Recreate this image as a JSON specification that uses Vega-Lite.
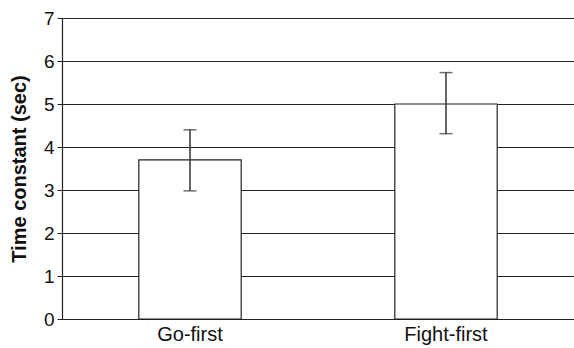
{
  "$schema": "https://vega.github.io/schema/vega-lite/v6.json",
  "width": 512,
  "height": 301,
  "autosize": {"type": "none"},
  "padding": {"left": 62, "top": 18, "right": 0, "bottom": 29},
  "background": "white",
  "config": {
    "view": {"stroke": null},
    "font": "Liberation Sans"
  },
  "data": {
    "values": [
      {"group": "Go-first", "value": 3.7, "lo": 2.98, "hi": 4.4},
      {"group": "Fight-first", "value": 5.0, "lo": 4.31, "hi": 5.73}
    ]
  },
  "encoding": {
    "x": {
      "field": "group",
      "type": "nominal",
      "sort": null,
      "scale": {"paddingInner": 0.6, "paddingOuter": 0.3},
      "axis": {
        "title": null,
        "labelAngle": 0,
        "labelFont": "Liberation Sans",
        "labelFontSize": 20,
        "labelColor": "#111",
        "labelPadding": 5,
        "ticks": false,
        "domainColor": "#222",
        "domainWidth": 1.2
      }
    }
  },
  "layer": [
    {
      "mark": {"type": "bar", "fill": "white", "stroke": "#222", "strokeWidth": 1.2},
      "encoding": {
        "y": {
          "field": "value",
          "type": "quantitative",
          "scale": {"domain": [0, 7], "nice": false},
          "axis": {
            "title": "Time constant (sec)",
            "titleFont": "Liberation Sans",
            "titleFontSize": 20,
            "titleFontWeight": "bold",
            "titleColor": "#111",
            "titlePadding": 14,
            "values": [0, 1, 2, 3, 4, 5, 6, 7],
            "labelFont": "Liberation Sans",
            "labelFontSize": 19,
            "labelColor": "#111",
            "labelPadding": 3,
            "tickSize": 5,
            "tickColor": "#222",
            "domainColor": "#222",
            "domainWidth": 1.2,
            "grid": true,
            "gridColor": "#222",
            "gridWidth": 1.1,
            "gridOpacity": 1
          }
        }
      }
    },
    {
      "mark": {"type": "rule", "color": "#333", "strokeWidth": 1.5},
      "encoding": {
        "y": {"field": "lo", "type": "quantitative"},
        "y2": {"field": "hi"}
      }
    },
    {
      "mark": {"type": "tick", "color": "#333", "size": 13, "thickness": 1.5, "orient": "horizontal"},
      "encoding": {
        "y": {"field": "lo", "type": "quantitative"}
      }
    },
    {
      "mark": {"type": "tick", "color": "#333", "size": 13, "thickness": 1.5, "orient": "horizontal"},
      "encoding": {
        "y": {"field": "hi", "type": "quantitative"}
      }
    }
  ]
}
